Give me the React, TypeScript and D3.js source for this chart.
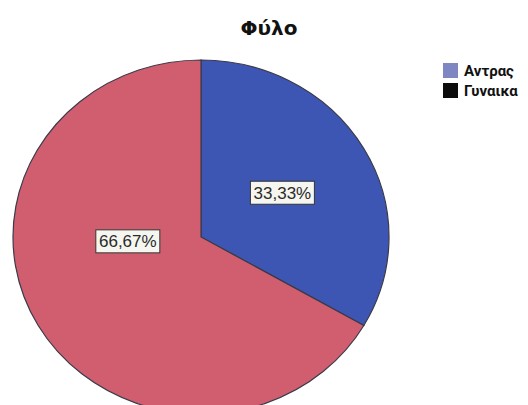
import React from "react";
import * as d3 from "d3";

const categories = ["Αντρας", "Γυναικα"];
const values = [33.33, 66.67];
const labels = ["33,33%", "66,67%"];
const sliceColors = ["#3d56b3", "#d15e6f"];
const legendColors = ["#7f87c2", "#0c0c0c"];
const title = "Φύλο";

const W = 528;
const H = 405;
const cx = 201;
const cy = 237;
const rx = 188;
const ry = 177;
// label placement inside each slice: fraction along the slice's angle span, and fraction of the radius
const labelSpanFrac = [0.5, 0.61];
const labelRadFrac = [0.5, 0.39];

export default function App() {
  const pie = d3.pie<number>().sort(null).value((d) => d);
  const arcs = pie(values);
  const arc = d3.arc<d3.PieArcDatum<number>>().innerRadius(0).outerRadius(rx);
  const ky = ry / rx;

  return (
    <svg width={W} height={H} style={{ position: "absolute", left: 0, top: 0, background: "#fff" }}>
      <rect x={0} y={0} width={W} height={H} fill="#ffffff" />
      <text x={269} y={35} textAnchor="middle" fontFamily="DejaVu Sans, sans-serif" fontWeight="bold" fontSize={20} fill="#111">
        {title}
      </text>
      <g transform={`translate(${cx},${cy}) scale(1,${ky})`}>
        {arcs.map((a, i) => (
          <path key={i} d={arc(a) || ""} fill={sliceColors[i]} stroke="#3a3a4a" strokeWidth={1.2} vectorEffect="non-scaling-stroke" />
        ))}
      </g>
      {arcs.map((a, i) => {
        const ang = a.startAngle + (a.endAngle - a.startAngle) * labelSpanFrac[i];
        const d = rx * labelRadFrac[i];
        const x = cx + d * Math.sin(ang);
        const y = cy - d * Math.cos(ang) * ky;
        const bw = 64;
        const bh = 23;
        return (
          <g key={i}>
            <rect x={x - bw / 2} y={y - bh / 2} width={bw} height={bh} fill="#f6f6f0" stroke="#333" strokeWidth={1} />
            <text x={x} y={y + 6} textAnchor="middle" fontFamily="Liberation Sans, Arial, sans-serif" fontSize={17} fill="#2a2a2a">
              {labels[i]}
            </text>
          </g>
        );
      })}
      {categories.map((c, i) => (
        <g key={c}>
          <rect x={443} y={63 + i * 20} width={15} height={15} fill={legendColors[i]} />
          <text x={464} y={76 + i * 20} fontFamily="Roboto, sans-serif" fontWeight="bold" fontSize={15} fill="#111">
            {c}
          </text>
        </g>
      ))}
    </svg>
  );
}
